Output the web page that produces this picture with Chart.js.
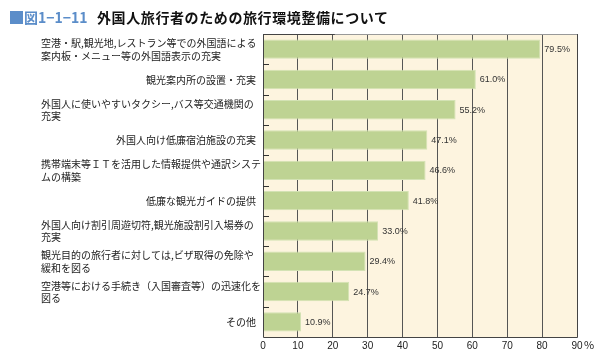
<!DOCTYPE html>
<html>
<head>
<meta charset="utf-8">
<script src="https://cdn.jsdelivr.net/npm/chart.js@4"></script>
<style>
  html, body { margin: 0; padding: 0; background: #ffffff; }
  #wrap { position: relative; width: 603px; height: 360px; }
  #title { position: absolute; left: 10px; top: 9px; height: 16px; line-height: 16px; white-space: nowrap;
           font-family: "Noto Sans CJK JP", sans-serif; font-weight: bold; font-size: 14px; }
  #title .sq { display: inline-block; width: 13px; height: 13px; background: #5b8dc9; vertical-align: -1px; }
  #title .num { color: #5b8dc9; margin-left: 1px; }
  #title .txt { position: absolute; left: 87px; top: 0; color: #111; letter-spacing: 0.6px; }
  canvas { position: absolute; left: 0; top: 0; }
</style>
</head>
<body>
<div id="wrap">
  <canvas id="c" width="603" height="360"></canvas>
  <div id="title"><span class="sq"></span><span class="num">図1−1−11</span><span class="txt">外国人旅行者のための旅行環境整備について</span></div>
</div>
<script>
const categories = [
  ["空港・駅,観光地,レストラン等での外国語による", "案内板・メニュー等の外国語表示の充実"],
  ["観光案内所の設置・充実"],
  ["外国人に使いやすいタクシー,バス等交通機関の", "充実"],
  ["外国人向け低廉宿泊施設の充実"],
  ["携帯端末等ＩＴを活用した情報提供や通訳システ", "ムの構築"],
  ["低廉な観光ガイドの提供"],
  ["外国人向け割引周遊切符,観光施設割引入場券の", "充実"],
  ["観光目的の旅行者に対しては,ビザ取得の免除や", "緩和を図る"],
  ["空港等における手続き（入国審査等）の迅速化を", "図る"],
  ["その他"]
];
const values = [79.5, 61.0, 55.2, 47.1, 46.6, 41.8, 33.0, 29.4, 24.7, 10.9];
const xTicks = [0, 10, 20, 30, 40, 50, 60, 70, 80, 90];
const xUnit = "%";

const JP = '"Noto Sans CJK JP", sans-serif';
const NUM = '"Liberation Sans", Arial, sans-serif';

const decor = {
  id: 'decor',
  beforeDraw(chart) {
    const a = chart.chartArea, ctx = chart.ctx;
    ctx.save();
    ctx.fillStyle = '#fdf4df';
    ctx.fillRect(a.left, a.top, a.right - a.left, a.bottom - a.top);
    ctx.restore();
  },
  afterDatasetsDraw(chart) {
    const ctx = chart.ctx, a = chart.chartArea;
    const meta = chart.getDatasetMeta(0);
    ctx.save();
    ctx.font = '9px ' + NUM;
    ctx.fillStyle = '#333';
    ctx.textBaseline = 'middle';
    ctx.textAlign = 'left';
    meta.data.forEach((bar, i) => {
      ctx.fillText(values[i].toFixed(1) + '%', bar.x + 4, bar.y + 0.5);
    });
    ctx.restore();
  },
  afterDraw(chart) {
    const ctx = chart.ctx, a = chart.chartArea;
    const y = chart.scales.y, x = chart.scales.x;
    ctx.save();
    // border
    ctx.strokeStyle = '#444';
    ctx.lineWidth = 1;
    ctx.beginPath();
    ctx.moveTo(a.left + 0.5, a.top);
    ctx.lineTo(a.left + 0.5, a.bottom + 0.5);
    ctx.lineTo(a.right + 0.5, a.bottom + 0.5);
    ctx.lineTo(a.right + 0.5, a.top + 0.5);
    ctx.stroke();
    ctx.strokeStyle = '#999';
    ctx.beginPath();
    ctx.moveTo(a.left, a.top + 0.5);
    ctx.lineTo(a.right, a.top + 0.5);
    ctx.stroke();
    ctx.strokeStyle = '#444';
    ctx.beginPath();
    ctx.moveTo(a.left, a.top + 0.5);
    ctx.lineTo(x.getPixelForValue(20) + 2, a.top + 0.5);
    ctx.stroke();
    // inward category ticks
    const step = (y.getPixelForValue(1) - y.getPixelForValue(0));
    ctx.strokeStyle = '#333';
    ctx.beginPath();
    for (let i = 0; i < categories.length - 1; i++) {
      const py = Math.round(y.getPixelForValue(i) + step / 2) + 0.5;
      ctx.moveTo(a.left, py);
      ctx.lineTo(a.left + 6, py);
    }
    ctx.stroke();
    // category labels
    ctx.font = '10px ' + JP;
    ctx.fillStyle = '#222';
    ctx.textBaseline = 'middle';
    const lh = 12.5;
    categories.forEach((lines, i) => {
      const cy = y.getPixelForValue(i);
      if (lines.length === 1) {
        ctx.textAlign = 'right';
        ctx.fillText(lines[0], a.left - 7, cy + 0.5);
      } else {
        ctx.textAlign = 'left';
        lines.forEach((ln, k) => {
          ctx.fillText(ln, 41, cy - lh * (lines.length - 1) / 2 + k * lh + 0.5);
        });
      }
    });
    // unit after last x tick
    ctx.font = '11px ' + JP;
    ctx.fillStyle = '#222';
    ctx.textAlign = 'left';
    ctx.fillText(xUnit, x.getPixelForValue(90) + 7, a.bottom + 8);
    ctx.restore();
  }
};

new Chart(document.getElementById('c'), {
  type: 'bar',
  data: {
    labels: categories,
    datasets: [{
      data: values,
      backgroundColor: '#bed393',
      borderColor: '#d3e2b4',
      borderWidth: 1,
      borderSkipped: 'start',
      categoryPercentage: 1.0,
      barPercentage: 0.64
    }]
  },
  options: {
    indexAxis: 'y',
    responsive: false,
    animation: false,
    devicePixelRatio: 1,
    layout: { padding: { top: 34, right: 26, left: 0, bottom: 0 } },
    plugins: { legend: { display: false }, tooltip: { enabled: false } },
    scales: {
      x: {
        min: 0, max: 90,
        afterBuildTicks(s) { s.ticks = xTicks.map(v => ({ value: v })); },
        afterFit(s) { s.height = 23; },
        grid: { color: '#555', lineWidth: 1, drawTicks: false },
        border: { display: false },
        ticks: { font: { size: 10, family: NUM }, color: '#222', padding: 3, maxRotation: 0 }
      },
      y: {
        afterFit(s) { s.width = 263; },
        grid: { display: false },
        border: { display: false },
        ticks: { display: false }
      }
    }
  },
  plugins: [decor]
});
</script>
</body>
</html>
